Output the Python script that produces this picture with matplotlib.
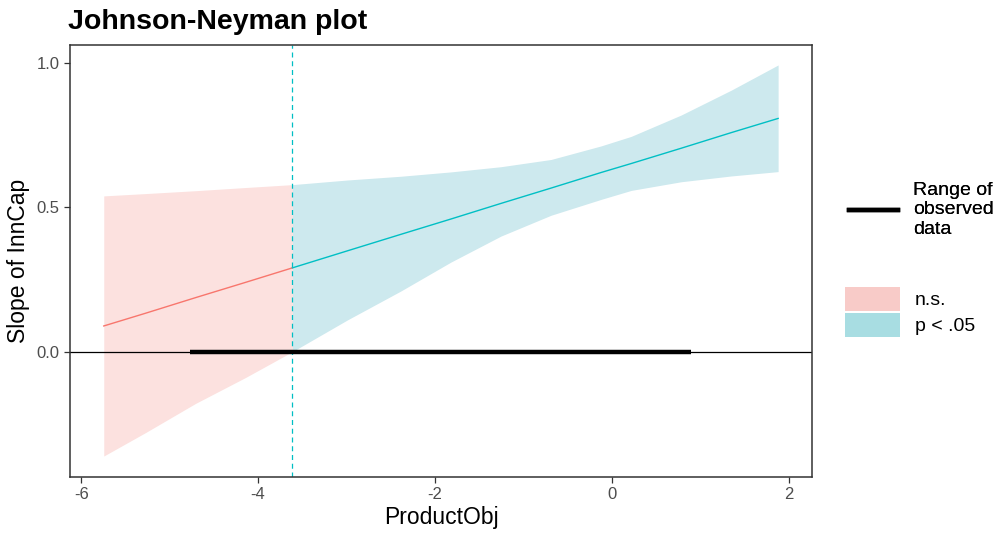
import matplotlib
matplotlib.use("Agg")
import matplotlib.pyplot as plt
from matplotlib.lines import Line2D
from matplotlib.patches import Patch

plt.rcParams['font.family'] = ['Liberation Sans', 'DejaVu Sans']

# valeurs
x_vals = [-5.745, -5.273, -4.707, -4.14, -3.612, -2.989, -2.385, -1.819,
          -1.253, -0.687, -0.120, 0.220, 0.786, 1.352, 1.881]
slope = [0.089, 0.133, 0.187, 0.240, 0.290, 0.349, 0.406, 0.459,
         0.513, 0.566, 0.620, 0.651, 0.704, 0.758, 0.807]
upper = [0.539, 0.547, 0.557, 0.568, 0.578, 0.594, 0.607, 0.622,
         0.640, 0.665, 0.712, 0.745, 0.819, 0.905, 0.992]
lower = [-0.361, -0.280, -0.179, -0.089, 0.0, 0.110, 0.210, 0.310,
         0.400, 0.472, 0.527, 0.558, 0.588, 0.608, 0.623]
jn_point = -3.612
obs_range = [-4.772, 0.899]
i_jn = 4  # indice du point de Johnson-Neyman

red = "#F8766D"
teal = "#00BFC4"

fig = plt.figure(figsize=(10.01, 5.34), dpi=100)
ax = fig.add_axes([0.070, 0.1073, 0.741, 0.8084])

# bandes de confiance
ax.fill_between(x_vals[:i_jn + 1], lower[:i_jn + 1], upper[:i_jn + 1],
                color="#FCE1DF", lw=0, zorder=1)
ax.fill_between(x_vals[i_jn:], lower[i_jn:], upper[i_jn:],
                color="#CDE9EE", lw=0, zorder=1)

# droite de la pente
ax.plot(x_vals[:i_jn + 1], slope[:i_jn + 1], color=red, lw=1, zorder=3)
ax.plot(x_vals[i_jn:], slope[i_jn:], color=teal, lw=1, zorder=3)

ax.axhline(0, color="black", lw=0.9, zorder=2)
ax.plot(obs_range, [0, 0], color="black", lw=3.2, solid_capstyle="butt", zorder=4)
ax.axvline(jn_point, color=teal, lw=0.9, ls=(0, (4, 3)), zorder=2)

ax.set_xlim(-6.126, 2.262)
ax.set_ylim(-0.4325, 1.061)
ax.set_xticks([-6, -4, -2, 0, 2])
ax.set_xticklabels(["-6", "-4", "-2", "0", "2"])
ax.set_yticks([0.0, 0.5, 1.0])
ax.set_yticklabels(["0.0", "0.5", "1.0"])
ax.tick_params(colors="#333333", labelcolor="#4D4D4D", labelsize=12, length=4, width=0.9)
for s in ax.spines.values():
    s.set_color("#333333")
    s.set_linewidth(1.1)

ax.set_xlabel("ProductObj", fontsize=16.5, labelpad=3)
ax.set_ylabel("Slope of InnCap", fontsize=16.5, labelpad=5)
fig.text(0.068, 0.934, "Johnson-Neyman plot", fontsize=20.5, fontweight="bold", ha="left", va="bottom")

# légendes à droite
leg1 = fig.legend(handles=[Line2D([0], [0], color="black", lw=3.2)],
                  labels=["Range of\nobserved\ndata"],
                  loc="center left", bbox_to_anchor=(0.831, 0.607),
                  frameon=False, fontsize=14, handlelength=2.5, handletextpad=0.8)
fig.add_artist(leg1)
fig.legend(handles=[Patch(color="#F8CBC8", lw=0), Patch(color="#A8DDE2", lw=0)],
           labels=["n.s.", "p < .05"],
           loc="center left", bbox_to_anchor=(0.827, 0.416),
           frameon=False, fontsize=14, handlelength=2.83, handleheight=1.5,
           labelspacing=0.1, handletextpad=0.75)

fig.savefig("out.png", dpi=100)
